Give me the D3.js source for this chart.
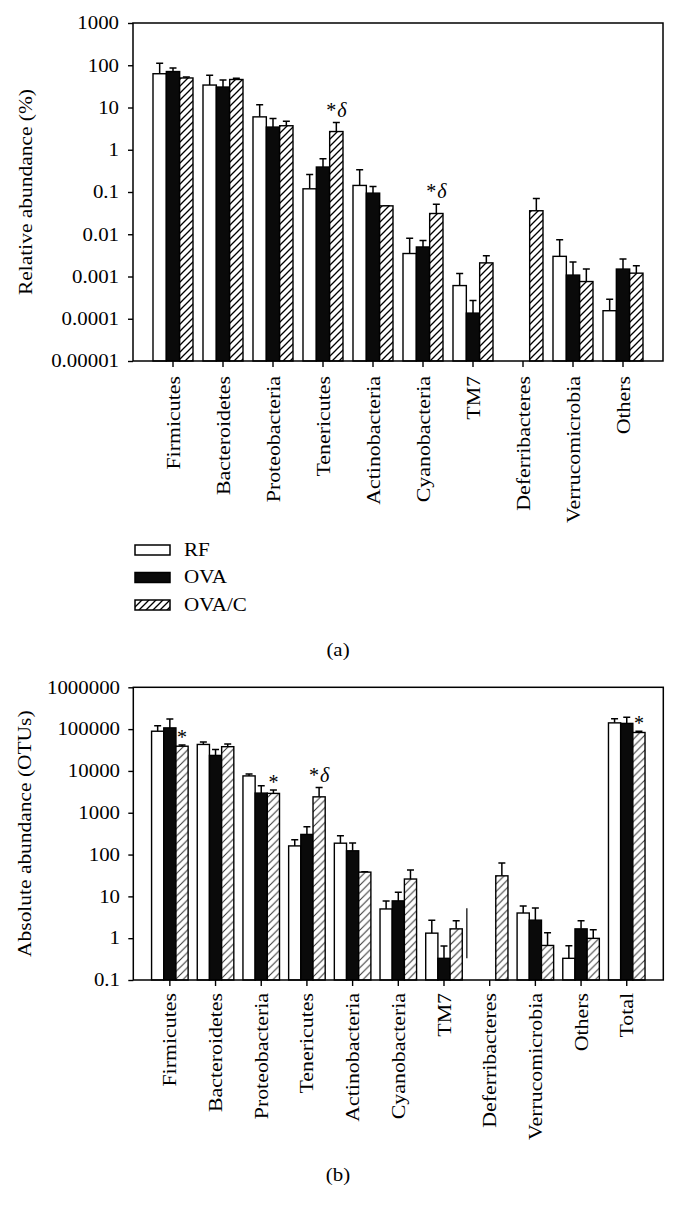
<!DOCTYPE html>
<html>
<head>
<meta charset="utf-8">
<script src="https://cdn.jsdelivr.net/npm/d3@7"></script>
<style>
  body { margin: 0; background: #fff; }
  svg { display: block; }
</style>
</head>
<body>
<svg id="chart" width="678" height="1217"></svg>
<script>
// ---------------- DATA ----------------
const groups = ["RF", "OVA", "OVA/C"];

// Panel (a): relative abundance (%)
const relCategories = ["Firmicutes", "Bacteroidetes", "Proteobacteria", "Tenericutes", "Actinobacteria",
  "Cyanobacteria", "TM7", "Deferribacteres", "Verrucomicrobia", "Others"];
const relRF      = [63, 34, 6.0, 0.119, 0.143, 0.0035, 0.00061, null, 0.0030, 0.000155];
const relRFErr   = [112, 58, 11.6, 0.26, 0.336, 0.0080, 0.00117, null, 0.0074, 0.00029];
const relOVA     = [71, 30.5, 3.44, 0.39, 0.094, 0.0050, 0.000136, null, 0.00108, 0.0015];
const relOVAErr  = [86, 44.6, 5.5, 0.61, 0.135, 0.0071, 0.00027, null, 0.0022, 0.0026];
const relOVAC    = [50, 46, 3.7, 2.7, 0.047, 0.031, 0.0021, 0.036, 0.00076, 0.0012];
const relOVACErr = [53, 49, 4.7, 4.4, 0.047, 0.051, 0.0031, 0.070, 0.0015, 0.0018];
const relTicks = [1000, 100, 10, 1, 0.1, 0.01, 0.001, 0.0001, 0.00001];
const relTickLabels = ["1000", "100", "10", "1", "0.1", "0.01", "0.001", "0.0001", "0.00001"];
const relMarks = [
  { category: "Tenericutes", group: "OVA/C", star: "*", delta: "δ" },
  { category: "Cyanobacteria", group: "OVA/C", star: "*", delta: "δ" }
];

// Panel (b): absolute abundance (OTUs)
const absCategories = ["Firmicutes", "Bacteroidetes", "Proteobacteria", "Tenericutes", "Actinobacteria",
  "Cyanobacteria", "TM7", "Deferribacteres", "Verrucomicrobia", "Others", "Total"];
const absRF      = [89000, 43000, 7600, 161, 187, 5.0, 1.32, null, 4.0, 0.33, 141000];
const absRFErr   = [120000, 49000, 8500, 225, 280, 7.7, 2.7, null, 5.9, 0.66, 178000];
const absOVA     = [107000, 23500, 2950, 303, 123, 7.8, 0.33, null, 2.7, 1.67, 137000];
const absOVAErr  = [174000, 32500, 4400, 460, 190, 12.6, 0.65, null, 5.3, 2.6, 191000];
const absOVAC    = [39000, 38000, 2900, 2400, 38, 26, 1.67, 31, 0.67, 0.99, 83000];
const absOVACErr = [41500, 44000, 3500, 4000, 39, 43, 2.6, 63, 1.34, 1.6, 89000];
const absTicks = [1000000, 100000, 10000, 1000, 100, 10, 1, 0.1];
const absTickLabels = ["1000000", "100000", "10000", "1000", "100", "10", "1", "0.1"];
const absMarks = [
  { category: "Firmicutes", group: "OVA/C", star: "*", delta: "" },
  { category: "Proteobacteria", group: "OVA/C", star: "*", delta: "" },
  { category: "Tenericutes", group: "OVA/C", star: "*", delta: "δ" },
  { category: "Total", group: "OVA/C", star: "*", delta: "" }
];
// stray vertical stroke between TM7 and Deferribacteres in panel (b)
const absStray = { between: ["TM7", "Deferribacteres"], from: 0.33, to: 5.2 };

const yTitles = ["Relative abundance (%)", "Absolute abundance (OTUs)"];
const panelLabels = ["(a)", "(b)"];

// ---------------- DRAW ----------------
const FONT = "'Liberation Serif', 'Times New Roman', serif";
const SX = 1.16; // horizontal stretch of the original typeface
const svg = d3.select("#chart");
const defs = svg.append("defs");

function hatch(id, size, color, width) {
  const p = defs.append("pattern").attr("id", id).attr("patternUnits", "userSpaceOnUse")
    .attr("width", size).attr("height", size);
  p.append("rect").attr("width", size).attr("height", size).attr("fill", "#fff");
  p.append("path")
    .attr("d", `M${-size / 4},${size / 4} L${size / 4},${-size / 4} M0,${size} L${size},0 M${size * 3 / 4},${size * 5 / 4} L${size * 5 / 4},${size * 3 / 4}`)
    .attr("stroke", color).attr("stroke-width", width);
}
hatch("hatchA", 7, "#000", 1.3);
hatch("hatchB", 7.5, "#333", 1.0);

function panel(cfg) {
  const g = svg.append("g").attr("font-family", FONT).attr("fill", "#000");
  const x = d3.scaleBand().domain(cfg.categories).range([cfg.left, cfg.right])
    .paddingInner(0.2).paddingOuter(0.4);
  const xi = d3.scaleBand().domain(groups).range([0, x.bandwidth()]);
  const y = d3.scaleLog().domain([cfg.ticks[cfg.ticks.length - 1], cfg.ticks[0]]).range([cfg.bottom, cfg.top]);
  const base = cfg.bottom;
  const fills = { "RF": "#fff", "OVA": "#0a0a0a", "OVA/C": `url(#${cfg.hatch})` };

  cfg.series.forEach(s => {
    const data = cfg.categories.map((c, i) => ({ c, v: s.values[i], e: s.errors[i] })).filter(d => d.v != null);
    const cx = d => x(d.c) + xi(s.group) + xi.bandwidth() / 2;
    // error bars (upper only)
    g.append("g").selectAll("path").data(data).join("path")
      .attr("d", d => `M${cx(d)},${y(d.v)} V${y(d.e)} M${cx(d) - 3.5},${y(d.e)} H${cx(d) + 3.5}`)
      .attr("stroke", "#000").attr("stroke-width", 1.5).attr("fill", "none");
    g.append("g").selectAll("rect").data(data).join("rect")
      .attr("x", d => x(d.c) + xi(s.group))
      .attr("y", d => y(d.v))
      .attr("width", xi.bandwidth())
      .attr("height", d => base - y(d.v))
      .attr("fill", fills[s.group])
      .attr("stroke", "#000").attr("stroke-width", 1.4);
  });

  // significance marks
  cfg.marks.forEach(m => {
    const si = groups.indexOf(m.group);
    const ci = cfg.categories.indexOf(m.category);
    const e = cfg.series[si].errors[ci];
    const t = g.append("text")
      .attr("x", x(m.category) + xi(m.group) + xi.bandwidth() / 2)
      .attr("y", y(e) - (m.delta ? 6 : 1))
      .attr("text-anchor", "middle").attr("font-size", 20);
    t.append("tspan").text(m.star);
    if (m.delta) t.append("tspan").attr("font-style", "italic").attr("dx", 1).text(m.delta);
  });

  if (cfg.stray) {
    const xs = (x(cfg.stray.between[0]) + x.bandwidth() + x(cfg.stray.between[1])) / 2;
    g.append("line").attr("x1", xs).attr("x2", xs)
      .attr("y1", y(cfg.stray.from)).attr("y2", y(cfg.stray.to))
      .attr("stroke", "#222").attr("stroke-width", 1.4);
  }

  // y axis
  const ya = d3.axisLeft(y).tickValues(cfg.ticks).tickFormat((d, i) => cfg.tickLabels[i])
    .tickSize(5).tickSizeOuter(0);
  const yg = g.append("g").attr("transform", `translate(${cfg.left},0)`).call(ya)
    .attr("font-family", FONT).attr("font-size", 18);
  yg.select(".domain").remove();
  yg.selectAll(".tick line").attr("stroke", "#000").attr("stroke-width", 1.4);
  yg.selectAll(".tick text").attr("fill", "#000").attr("x", -cfg.yLabelGap / SX)
    .attr("transform", `scale(${SX},1)`);

  // x axis
  const xa = d3.axisBottom(x).tickSize(6).tickSizeOuter(0);
  const xg = g.append("g").attr("transform", `translate(0,${cfg.bottom})`).call(xa)
    .attr("font-family", FONT).attr("font-size", 18.7);
  xg.select(".domain").remove();
  xg.selectAll(".tick line").attr("stroke", "#000").attr("stroke-width", 1.4);
  xg.selectAll(".tick text").attr("fill", "#000")
    .attr("y", 0).attr("x", -cfg.xLabelGap / 1.17).attr("dy", "0.35em")
    .attr("text-anchor", "end")
    .attr("transform", `rotate(-90) scale(1.17,1)`);

  // frame
  g.append("rect").attr("x", cfg.left).attr("y", cfg.top)
    .attr("width", cfg.right - cfg.left).attr("height", cfg.bottom - cfg.top)
    .attr("fill", "none").attr("stroke", "#000").attr("stroke-width", 1.5);

  // y title
  g.append("text")
    .attr("transform", `translate(${cfg.titleX},${(cfg.top + cfg.bottom) / 2}) rotate(-90) scale(${SX},1)`)
    .attr("text-anchor", "middle").attr("font-size", 18.5).text(cfg.title);

  // panel label
  g.append("text")
    .attr("transform", `translate(338,${cfg.labelY}) scale(${SX},1)`)
    .attr("text-anchor", "middle").attr("font-size", 18).text(cfg.panelLabel);
}

panel({
  categories: relCategories,
  series: [
    { group: "RF", values: relRF, errors: relRFErr },
    { group: "OVA", values: relOVA, errors: relOVAErr },
    { group: "OVA/C", values: relOVAC, errors: relOVACErr }
  ],
  ticks: relTicks, tickLabels: relTickLabels, marks: relMarks,
  left: 133, right: 663, top: 23, bottom: 361,
  yLabelGap: 14, xLabelGap: 15, titleX: 32, labelY: 656,
  hatch: "hatchA", title: yTitles[0], panelLabel: panelLabels[0]
});

panel({
  categories: absCategories,
  series: [
    { group: "RF", values: absRF, errors: absRFErr },
    { group: "OVA", values: absOVA, errors: absOVAErr },
    { group: "OVA/C", values: absOVAC, errors: absOVACErr }
  ],
  ticks: absTicks, tickLabels: absTickLabels, marks: absMarks, stray: absStray,
  left: 133.3, right: 663.3, top: 687.3, bottom: 980,
  yLabelGap: 13.3, xLabelGap: 13, titleX: 31, labelY: 1181,
  hatch: "hatchB", title: yTitles[1], panelLabel: panelLabels[1]
});

// legend
const legend = svg.append("g").attr("font-family", FONT);
const legendY = d3.scalePoint().domain(groups).range([545, 600]);
const legendFill = { "RF": "#fff", "OVA": "#0a0a0a", "OVA/C": "url(#hatchA)" };
groups.forEach(gname => {
  legend.append("rect").attr("x", 135).attr("y", legendY(gname)).attr("width", 35).attr("height", 10)
    .attr("fill", legendFill[gname]).attr("stroke", "#000").attr("stroke-width", 1.5);
  legend.append("text").attr("transform", `translate(184,${legendY(gname) + 10.5}) scale(1.17,1)`)
    .attr("font-size", 18).text(gname);
});
</script>
</body>
</html>
